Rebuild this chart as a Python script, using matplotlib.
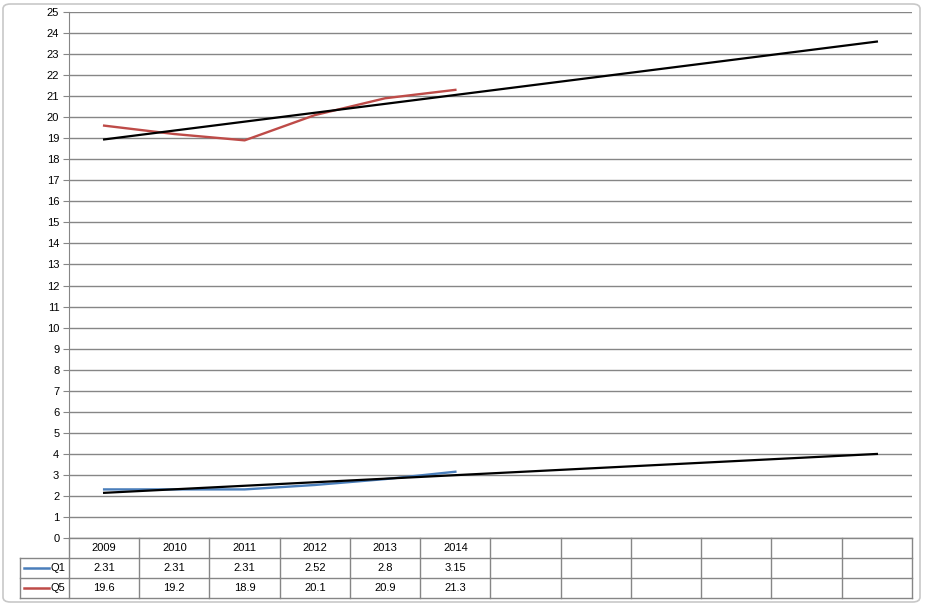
import numpy as np
import matplotlib.pyplot as plt
from matplotlib.patches import FancyBboxPatch
from matplotlib.transforms import blended_transform_factory

years = ["2009", "2010", "2011", "2012", "2013", "2014"]
q1 = [2.31, 2.31, 2.31, 2.52, 2.8, 3.15]
q5 = [19.6, 19.2, 18.9, 20.1, 20.9, 21.3]
q1_labels = ["2.31", "2.31", "2.31", "2.52", "2.8", "3.15"]
q5_labels = ["19.6", "19.2", "18.9", "20.1", "20.9", "21.3"]
n_cats = 12  # 6 years plus 6 empty forecast slots

BLUE = "#4A7EBB"
RED = "#BE4B48"
GRID = "#868686"
FS = 8

plt.rcParams["font.family"] = ["Liberation Sans", "DejaVu Sans"]

W, H = 929, 607
fig = plt.figure(figsize=(W / 100, H / 100), dpi=100)

# chart area frame
frame = FancyBboxPatch((3 / W, 5 / H), (W - 12) / W, (H - 9) / H,
                       boxstyle="round,pad=0,rounding_size=0.008",
                       transform=fig.transFigure, facecolor="white",
                       edgecolor="#C8C8C8", linewidth=1.2, zorder=-10)
fig.patches.append(frame)

left, right, top, bottom = 69, 912, 12, 538
ax = fig.add_axes([left / W, (H - bottom) / H, (right - left) / W, (bottom - top) / H])
ax.set_facecolor("none")

x = np.arange(len(years))
ax.plot(x, q1, color=BLUE, linewidth=1.7)
ax.plot(x, q5, color=RED, linewidth=1.7)

# linear trend lines (Excel style, forecast forward to the last slot)
xt = np.arange(n_cats)
for vals in (q1, q5):
    k, b = np.polyfit(x + 1, vals, 1)
    ax.plot(xt, k * (xt + 1) + b, color="black", linewidth=1.6)

ax.set_xlim(-0.5, n_cats - 0.5)
ax.set_ylim(0, 25)
ax.set_yticks(range(0, 26))
ax.set_xticks([])
ax.grid(True, axis="y", color=GRID, linewidth=1)
ax.set_axisbelow(True)
for s in ["top", "right", "bottom"]:
    ax.spines[s].set_visible(False)
ax.spines["left"].set_color(GRID)
ax.tick_params(axis="y", length=4, color=GRID, labelsize=FS, pad=3)

# data table under the plot
tr = blended_transform_factory(ax.transData, ax.transAxes)
ph = bottom - top
row_h = 20 / ph
px = 70.25  # pixels per category
x_left = -0.5 - 49 / px
x_right = n_cats - 0.5
lc = dict(color=GRID, linewidth=1, transform=tr, clip_on=False)

# horizontal lines
ax.plot([-0.5, x_right], [0, 0], **lc)
for r in (1, 2, 3):
    ax.plot([x_left, x_right], [-r * row_h, -r * row_h], **lc)
# vertical lines
for i in range(n_cats + 1):
    ax.plot([i - 0.5, i - 0.5], [0, -3 * row_h], **lc)
ax.plot([x_left, x_left], [-row_h, -3 * row_h], **lc)

for i, yr in enumerate(years):
    ax.text(i, -0.5 * row_h, yr, transform=tr, ha="center", va="center", fontsize=FS)
    ax.text(i, -1.5 * row_h, q1_labels[i], transform=tr, ha="center", va="center", fontsize=FS)
    ax.text(i, -2.5 * row_h, q5_labels[i], transform=tr, ha="center", va="center", fontsize=FS)

for r, (name, col) in enumerate([("Q1", BLUE), ("Q5", RED)]):
    yy = -(r + 1.5) * row_h
    ax.plot([x_left + 4 / px, x_left + 29 / px], [yy, yy], color=col, linewidth=1.8,
            transform=tr, clip_on=False)
    ax.text(x_left + 31 / px, yy, name, transform=tr, ha="left", va="center", fontsize=FS)

fig.savefig("out.png", dpi=100)
